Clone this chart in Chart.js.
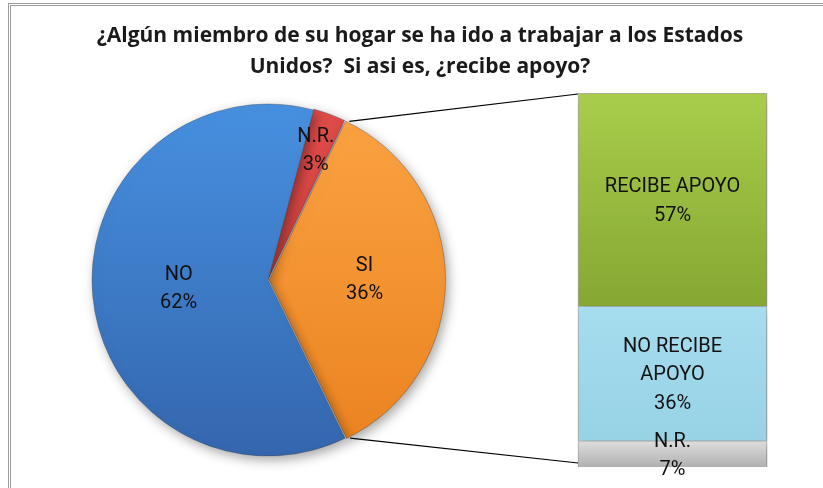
<!DOCTYPE html>
<html>
<head>
<meta charset="utf-8">
<script src="https://cdn.jsdelivr.net/npm/chart.js@4.4.1/dist/chart.umd.min.js"></script>
<style>
  html, body { margin: 0; background: #fff; }
  #frame { position: relative; width: 823px; height: 488px; overflow: hidden; background: #fff; }
  #frame canvas { position: absolute; left: 0; top: 0; }
  #edge { position: absolute; left: 8px; top: 3px; width: 900px; height: 600px;
          border-left: 3px double #9c9c9c; border-top: 3px double #9c9c9c; }
</style>
</head>
<body>
<div id="frame">
  <div id="edge"></div>
  <canvas id="pieChart" width="823" height="488"></canvas>
  <canvas id="barChart" width="823" height="488"></canvas>
</div>
<script>
"use strict";

// pie: has someone in the household gone to work in the US?
const pieLabels = ["N.R.", "SI", "NO"];
const pieValues = [3, 36, 62];

// bar: breakdown of the "SI" slice (bottom to top)
const barLabels = ["N.R.", ["NO RECIBE", "APOYO"], "RECIBE APOYO"];
const barValues = [7, 36, 57];

const titleLines = [
  "¿Algún miembro de su hogar se ha ido a trabajar a los Estados",
  "Unidos?  Si asi es, ¿recibe apoyo?",
];

const LABEL_FONT = "20px Roboto, 'Liberation Sans', sans-serif";
const pieColors = [["#e04c4a", "#c03836"], ["#fca343", "#ea821f"], ["#4790e0", "#3466ae"]];
const barColors = [["#dedede", "#b0b0b0"], ["#a6ddef", "#97d2e5"], ["#a9cd4b", "#86a733"]];
const labelDepth = [0.77, 0.52, 0.51]; // label distance from centre, as share of radius
const BAR_X = 81.33; // position of the bar on the hidden 0-100 x axis

const vGradient = (chart, top, bottom, pair) => {
  const g = chart.ctx.createLinearGradient(0, top, 0, bottom);
  g.addColorStop(0, pair[0]);
  g.addColorStop(1, pair[1]);
  return g;
};

const softShadow = {
  id: "softShadow",
  beforeDatasetsDraw(chart) {
    const ctx = chart.ctx;
    ctx.save();
    ctx.shadowColor = "rgba(0,0,0,0.35)";
    ctx.shadowBlur = 12;
    ctx.shadowOffsetX = 3;
    ctx.shadowOffsetY = 4;
  },
  afterDatasetsDraw(chart) {
    chart.ctx.restore();
  },
};

const drawLines = (ctx, lines, x, y, lineHeight) => {
  const start = y - ((lines.length - 1) * lineHeight) / 2;
  lines.forEach((line, i) => ctx.fillText(line, x, start + i * lineHeight));
};

const pieValueLabels = {
  id: "pieValueLabels",
  afterDraw(chart) {
    const ctx = chart.ctx;
    const arcs = chart.getDatasetMeta(0).data;
    ctx.save();
    ctx.font = LABEL_FONT;
    ctx.fillStyle = "#111";
    ctx.textAlign = "center";
    ctx.textBaseline = "middle";
    arcs.forEach((arc, i) => {
      const { x, y, startAngle, endAngle, outerRadius } = arc.getProps(["x", "y", "startAngle", "endAngle", "outerRadius"], true);
      const mid = (startAngle + endAngle) / 2;
      const dist = outerRadius * labelDepth[i] + (arc.options.offset || 0);
      drawLines(ctx, [pieLabels[i], pieValues[i] + "%"], x + Math.cos(mid) * dist, y + Math.sin(mid) * dist, 28);
    });
    ctx.restore();
  },
};

const pieChart = new Chart(document.getElementById("pieChart"), {
  type: "pie",
  data: {
    labels: pieLabels,
    datasets: [
      {
        data: pieValues,
        backgroundColor: (c) => {
          const area = c.chart.chartArea;
          if (!area) return pieColors[c.dataIndex][0];
          return vGradient(c.chart, area.top, area.bottom, pieColors[c.dataIndex]);
        },
        borderColor: "rgba(60,60,60,0.35)",
        borderWidth: 1,
        offset: [2, 5, 0],
      },
    ],
  },
  options: {
    responsive: false,
    animation: false,
    rotation: 15,
    radius: 176,
    layout: { padding: { left: 92, right: 379, top: 104, bottom: 32 } },
    plugins: { legend: { display: false }, tooltip: { enabled: false }, title: { display: false } },
  },
  plugins: [softShadow, pieValueLabels],
});

// connectors from the "SI" slice edges to the bar, plus the bar labels
const barExtras = {
  id: "barExtras",
  afterDraw(chart) {
    const ctx = chart.ctx;
    const bottomBar = chart.getDatasetMeta(0).data[0];
    const topBar = chart.getDatasetMeta(barValues.length - 1).data[0];
    const left = bottomBar.x - bottomBar.width / 2;

    const si = pieChart.getDatasetMeta(0).data[1];
    const { x, y, startAngle, endAngle, outerRadius } = si.getProps(["x", "y", "startAngle", "endAngle", "outerRadius"], true);
    const mid = (startAngle + endAngle) / 2;
    const off = si.options.offset || 0;
    const cx = x + Math.cos(mid) * off;
    const cy = y + Math.sin(mid) * off;

    ctx.save();
    ctx.strokeStyle = "#000";
    ctx.lineWidth = 1.2;
    ctx.beginPath();
    ctx.moveTo(cx + Math.cos(startAngle) * outerRadius, cy + Math.sin(startAngle) * outerRadius);
    ctx.lineTo(left, topBar.y + 1);
    ctx.moveTo(cx + Math.cos(endAngle) * outerRadius, cy + Math.sin(endAngle) * outerRadius);
    ctx.lineTo(left, bottomBar.base - 4);
    ctx.stroke();

    ctx.font = LABEL_FONT;
    ctx.fillStyle = "#111";
    ctx.textAlign = "center";
    ctx.textBaseline = "middle";
    barValues.forEach((v, i) => {
      const bar = chart.getDatasetMeta(i).data[0];
      const name = [].concat(barLabels[i]);
      drawLines(ctx, name.concat(v + "%"), bar.x, (bar.y + bar.base) / 2 + 2, 28.5);
    });
    ctx.restore();
  },
};

// gradient for a stacked segment, spanning its own top and bottom on the y scale
const segmentFill = (i) => (c) => {
  const yScale = c.chart.scales.y;
  if (!yScale || !c.chart.chartArea) return barColors[i][0];
  const below = barValues.slice(0, i).reduce((a, b) => a + b, 0);
  const top = yScale.getPixelForValue(below + barValues[i]);
  const bottom = yScale.getPixelForValue(below);
  if (!Number.isFinite(top) || !Number.isFinite(bottom)) return barColors[i][0];
  return vGradient(c.chart, top, bottom, barColors[i]);
};

new Chart(document.getElementById("barChart"), {
  type: "bar",
  data: {
    datasets: barValues.map((v, i) => ({
      label: [].concat(barLabels[i]).join(" "),
      data: [{ x: BAR_X, y: v }],
      backgroundColor: segmentFill(i),
      borderColor: "rgba(90,90,90,0.45)",
      borderWidth: 1,
      barThickness: 189,
    })),
  },
  options: {
    responsive: false,
    animation: false,
    layout: { padding: { left: 17, right: 0, top: 0, bottom: 21 } },
    scales: {
      x: { type: "linear", min: 0, max: 100, offset: false, display: false, stacked: true },
      y: { min: 0, max: 100, display: false, stacked: true },
    },
    plugins: {
      legend: { display: false },
      tooltip: { enabled: false },
      title: {
        display: true,
        text: titleLines,
        color: "#1a1a1a",
        font: { family: "'Open Sans', 'Liberation Sans', sans-serif", size: 21, weight: "bold", lineHeight: 1.476 },
        padding: { top: 21, bottom: 10 },
      },
    },
  },
  plugins: [softShadow, barExtras],
});
</script>
</body>
</html>
